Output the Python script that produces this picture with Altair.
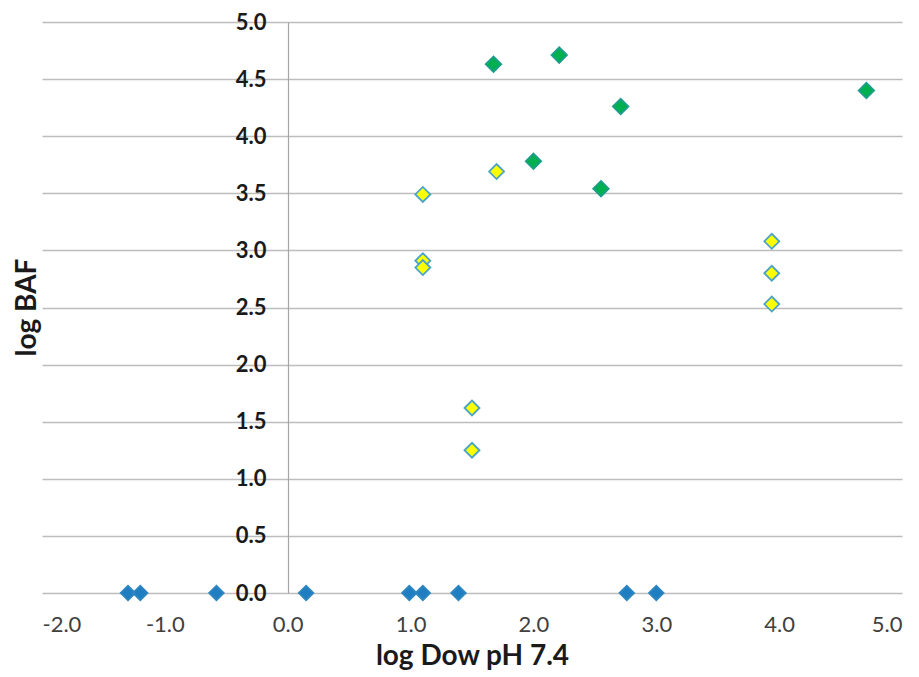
import altair as alt
import pandas as pd

blue_x = [-1.30, -1.20, -0.58, 0.15, 0.99, 1.10, 1.39, 2.76, 3.00]
blue_y = [0.0, 0.0, 0.0, 0.0, 0.0, 0.0, 0.0, 0.0, 0.0]
yellow_x = [1.10, 1.10, 1.10, 1.70, 1.50, 1.50, 3.94, 3.94, 3.94]
yellow_y = [3.49, 2.91, 2.85, 3.69, 1.62, 1.25, 3.08, 2.80, 2.53]
green_x = [1.675, 2.21, 2.71, 2.00, 2.55, 4.71]
green_y = [4.63, 4.71, 4.26, 3.78, 3.54, 4.40]

x_ticks = [-2, -1, 0, 1, 2, 3, 4, 5]
y_ticks = [0, 0.5, 1, 1.5, 2, 2.5, 3, 3.5, 4, 4.5, 5]

rows = []
for s, xs, ys in (("blue", blue_x, blue_y), ("yellow", yellow_x, yellow_y), ("green", green_x, green_y)):
    for a, b in zip(xs, ys):
        rows.append({"x": a, "y": b, "series": s})
df = pd.DataFrame(rows)

series_dom = ["blue", "yellow", "green"]

x_enc = alt.X("x:Q", scale=alt.Scale(domain=[-2, 5], nice=False),
              axis=alt.Axis(values=x_ticks, title="log Dow pH 7.4",
                            labelExpr="datum.value < 0 ? '-' + format(-datum.value, '.1f') : format(datum.value, '.1f')",
                            grid=False, ticks=False, domain=False,
                            labelFontSize=22, labelColor="#404040", labelPadding=21,
                            labelFont="Lato",
                            titleFontSize=28, titleFont="Lato", titleFontWeight="bold",
                            titleColor="#1a1a1a", titlePadding=7))
y_enc = alt.Y("y:Q", scale=alt.Scale(domain=[0, 5], nice=False),
              axis=alt.Axis(values=y_ticks, format=".1f", title="log BAF",
                            orient="left", offset=-246,
                            grid=True, gridColor="#BDBDBD", gridWidth=1.5,
                            ticks=False, domain=True, domainColor="#A6A6A6", domainWidth=1.2,
                            labelFontSize=22, labelFontWeight="bold", labelColor="#1a1a1a",
                            labelFont="Lato", labelPadding=22,
                            titleFontSize=28, titleFont="Lato", titleFontWeight="bold",
                            titleColor="#1a1a1a", titleX=-247, titleY=285, titleAngle=-90))

points = alt.Chart(df).mark_point(shape="diamond", filled=True, opacity=1, strokeWidth=1.8).encode(
    x=x_enc, y=y_enc,
    fill=alt.Fill("series:N", scale=alt.Scale(domain=series_dom, range=["#1F7DC1", "#FFFF00", "#00B050"]), legend=None),
    stroke=alt.Stroke("series:N", scale=alt.Scale(domain=series_dom, range=["#2E86C1", "#4AA3C8", "#1E9E8A"]), legend=None),
    size=alt.Size("series:N", scale=alt.Scale(domain=series_dom, range=[210, 240, 440]), legend=None),
)

chart = alt.layer(points).properties(
    width=860, height=571,
    autosize=alt.AutoSizeParams(type="none"),
    padding={"left": 34, "top": 14, "right": 9, "bottom": 80},
).configure(background="white").configure_view(stroke=None)

chart.save("out.html", embed_options={"renderer": "svg", "actions": False})
